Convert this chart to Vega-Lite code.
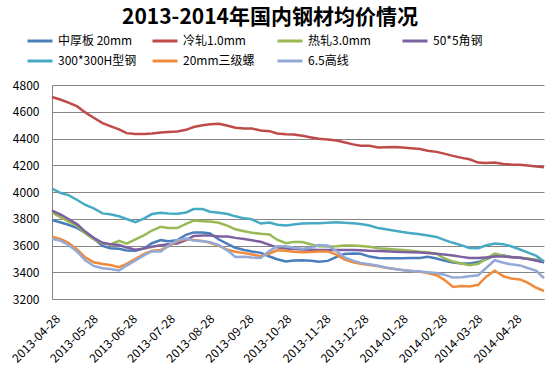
{
 "$schema": "https://vega.github.io/schema/vega-lite/v6.json",
 "width": 492, "height": 214,
 "autosize": "none",
 "padding": {"left": 52, "top": 85, "right": 10, "bottom": 71},
 "background": "white",
 "config": {"font": "Noto Sans CJK SC", "view": {"stroke": null}},
 "title": {"text": "2013-2014年国内钢材均价情况", "fontSize": 21, "fontWeight": "bold", "color": "#000000", "anchor": "middle", "frame": "group", "dx": -28, "offset": -1},
 "data": {"values": [
{"s":"中厚板 20mm","d":"2013-04-28","v":3790},{"s":"中厚板 20mm","d":"2013-05-05","v":3772},{"s":"中厚板 20mm","d":"2013-05-11","v":3755},{"s":"中厚板 20mm","d":"2013-05-18","v":3730},{"s":"中厚板 20mm","d":"2013-05-24","v":3695},{"s":"中厚板 20mm","d":"2013-05-31","v":3650},{"s":"中厚板 20mm","d":"2013-06-07","v":3597},{"s":"中厚板 20mm","d":"2013-06-13","v":3580},{"s":"中厚板 20mm","d":"2013-06-20","v":3575},{"s":"中厚板 20mm","d":"2013-06-26","v":3562},{"s":"中厚板 20mm","d":"2013-07-03","v":3560},{"s":"中厚板 20mm","d":"2013-07-10","v":3580},{"s":"中厚板 20mm","d":"2013-07-16","v":3617},{"s":"中厚板 20mm","d":"2013-07-23","v":3640},{"s":"中厚板 20mm","d":"2013-07-29","v":3632},{"s":"中厚板 20mm","d":"2013-08-05","v":3640},{"s":"中厚板 20mm","d":"2013-08-12","v":3680},{"s":"中厚板 20mm","d":"2013-08-18","v":3698},{"s":"中厚板 20mm","d":"2013-08-25","v":3698},{"s":"中厚板 20mm","d":"2013-08-31","v":3690},{"s":"中厚板 20mm","d":"2013-09-07","v":3645},{"s":"中厚板 20mm","d":"2013-09-14","v":3610},{"s":"中厚板 20mm","d":"2013-09-20","v":3583},{"s":"中厚板 20mm","d":"2013-09-27","v":3567},{"s":"中厚板 20mm","d":"2013-10-03","v":3555},{"s":"中厚板 20mm","d":"2013-10-10","v":3545},{"s":"中厚板 20mm","d":"2013-10-17","v":3518},{"s":"中厚板 20mm","d":"2013-10-23","v":3497},{"s":"中厚板 20mm","d":"2013-10-30","v":3480},{"s":"中厚板 20mm","d":"2013-11-05","v":3487},{"s":"中厚板 20mm","d":"2013-11-12","v":3490},{"s":"中厚板 20mm","d":"2013-11-19","v":3486},{"s":"中厚板 20mm","d":"2013-11-25","v":3478},{"s":"中厚板 20mm","d":"2013-12-02","v":3485},{"s":"中厚板 20mm","d":"2013-12-09","v":3515},{"s":"中厚板 20mm","d":"2013-12-15","v":3536},{"s":"中厚板 20mm","d":"2013-12-22","v":3541},{"s":"中厚板 20mm","d":"2013-12-28","v":3538},{"s":"中厚板 20mm","d":"2014-01-04","v":3517},{"s":"中厚板 20mm","d":"2014-01-11","v":3506},{"s":"中厚板 20mm","d":"2014-01-17","v":3505},{"s":"中厚板 20mm","d":"2014-01-24","v":3505},{"s":"中厚板 20mm","d":"2014-01-30","v":3505},{"s":"中厚板 20mm","d":"2014-02-06","v":3506},{"s":"中厚板 20mm","d":"2014-02-13","v":3507},{"s":"中厚板 20mm","d":"2014-02-19","v":3515},{"s":"中厚板 20mm","d":"2014-02-26","v":3503},{"s":"中厚板 20mm","d":"2014-03-04","v":3488},{"s":"中厚板 20mm","d":"2014-03-11","v":3472},{"s":"中厚板 20mm","d":"2014-03-18","v":3465},{"s":"中厚板 20mm","d":"2014-03-24","v":3465},{"s":"中厚板 20mm","d":"2014-03-31","v":3476},{"s":"中厚板 20mm","d":"2014-04-06","v":3497},{"s":"中厚板 20mm","d":"2014-04-13","v":3525},{"s":"中厚板 20mm","d":"2014-04-20","v":3525},{"s":"中厚板 20mm","d":"2014-04-26","v":3514},{"s":"中厚板 20mm","d":"2014-05-03","v":3508},{"s":"中厚板 20mm","d":"2014-05-09","v":3500},{"s":"中厚板 20mm","d":"2014-05-16","v":3488},{"s":"中厚板 20mm","d":"2014-05-22","v":3475},
{"s":"冷轧1.0mm","d":"2013-04-28","v":4710},{"s":"冷轧1.0mm","d":"2013-05-05","v":4690},{"s":"冷轧1.0mm","d":"2013-05-11","v":4668},{"s":"冷轧1.0mm","d":"2013-05-18","v":4640},{"s":"冷轧1.0mm","d":"2013-05-24","v":4597},{"s":"冷轧1.0mm","d":"2013-05-31","v":4555},{"s":"冷轧1.0mm","d":"2013-06-07","v":4515},{"s":"冷轧1.0mm","d":"2013-06-13","v":4493},{"s":"冷轧1.0mm","d":"2013-06-20","v":4468},{"s":"冷轧1.0mm","d":"2013-06-26","v":4440},{"s":"冷轧1.0mm","d":"2013-07-03","v":4434},{"s":"冷轧1.0mm","d":"2013-07-10","v":4434},{"s":"冷轧1.0mm","d":"2013-07-16","v":4438},{"s":"冷轧1.0mm","d":"2013-07-23","v":4445},{"s":"冷轧1.0mm","d":"2013-07-29","v":4449},{"s":"冷轧1.0mm","d":"2013-08-05","v":4453},{"s":"冷轧1.0mm","d":"2013-08-12","v":4465},{"s":"冷轧1.0mm","d":"2013-08-18","v":4486},{"s":"冷轧1.0mm","d":"2013-08-25","v":4499},{"s":"冷轧1.0mm","d":"2013-08-31","v":4507},{"s":"冷轧1.0mm","d":"2013-09-07","v":4510},{"s":"冷轧1.0mm","d":"2013-09-14","v":4495},{"s":"冷轧1.0mm","d":"2013-09-20","v":4481},{"s":"冷轧1.0mm","d":"2013-09-27","v":4475},{"s":"冷轧1.0mm","d":"2013-10-03","v":4475},{"s":"冷轧1.0mm","d":"2013-10-10","v":4460},{"s":"冷轧1.0mm","d":"2013-10-17","v":4455},{"s":"冷轧1.0mm","d":"2013-10-23","v":4437},{"s":"冷轧1.0mm","d":"2013-10-30","v":4431},{"s":"冷轧1.0mm","d":"2013-11-05","v":4429},{"s":"冷轧1.0mm","d":"2013-11-12","v":4420},{"s":"冷轧1.0mm","d":"2013-11-19","v":4408},{"s":"冷轧1.0mm","d":"2013-11-25","v":4398},{"s":"冷轧1.0mm","d":"2013-12-02","v":4393},{"s":"冷轧1.0mm","d":"2013-12-09","v":4385},{"s":"冷轧1.0mm","d":"2013-12-15","v":4372},{"s":"冷轧1.0mm","d":"2013-12-22","v":4356},{"s":"冷轧1.0mm","d":"2013-12-28","v":4346},{"s":"冷轧1.0mm","d":"2014-01-04","v":4345},{"s":"冷轧1.0mm","d":"2014-01-11","v":4332},{"s":"冷轧1.0mm","d":"2014-01-17","v":4334},{"s":"冷轧1.0mm","d":"2014-01-24","v":4337},{"s":"冷轧1.0mm","d":"2014-01-30","v":4333},{"s":"冷轧1.0mm","d":"2014-02-06","v":4328},{"s":"冷轧1.0mm","d":"2014-02-13","v":4322},{"s":"冷轧1.0mm","d":"2014-02-19","v":4309},{"s":"冷轧1.0mm","d":"2014-02-26","v":4300},{"s":"冷轧1.0mm","d":"2014-03-04","v":4287},{"s":"冷轧1.0mm","d":"2014-03-11","v":4270},{"s":"冷轧1.0mm","d":"2014-03-18","v":4255},{"s":"冷轧1.0mm","d":"2014-03-24","v":4245},{"s":"冷轧1.0mm","d":"2014-03-31","v":4220},{"s":"冷轧1.0mm","d":"2014-04-06","v":4217},{"s":"冷轧1.0mm","d":"2014-04-13","v":4220},{"s":"冷轧1.0mm","d":"2014-04-20","v":4210},{"s":"冷轧1.0mm","d":"2014-04-26","v":4205},{"s":"冷轧1.0mm","d":"2014-05-03","v":4204},{"s":"冷轧1.0mm","d":"2014-05-09","v":4198},{"s":"冷轧1.0mm","d":"2014-05-16","v":4190},{"s":"冷轧1.0mm","d":"2014-05-22","v":4185},
{"s":"热轧3.0mm","d":"2013-04-28","v":3848},{"s":"热轧3.0mm","d":"2013-05-05","v":3810},{"s":"热轧3.0mm","d":"2013-05-11","v":3780},{"s":"热轧3.0mm","d":"2013-05-18","v":3746},{"s":"热轧3.0mm","d":"2013-05-24","v":3693},{"s":"热轧3.0mm","d":"2013-05-31","v":3647},{"s":"热轧3.0mm","d":"2013-06-07","v":3615},{"s":"热轧3.0mm","d":"2013-06-13","v":3608},{"s":"热轧3.0mm","d":"2013-06-20","v":3635},{"s":"热轧3.0mm","d":"2013-06-26","v":3614},{"s":"热轧3.0mm","d":"2013-07-03","v":3646},{"s":"热轧3.0mm","d":"2013-07-10","v":3678},{"s":"热轧3.0mm","d":"2013-07-16","v":3712},{"s":"热轧3.0mm","d":"2013-07-23","v":3740},{"s":"热轧3.0mm","d":"2013-07-29","v":3731},{"s":"热轧3.0mm","d":"2013-08-05","v":3730},{"s":"热轧3.0mm","d":"2013-08-12","v":3762},{"s":"热轧3.0mm","d":"2013-08-18","v":3786},{"s":"热轧3.0mm","d":"2013-08-25","v":3782},{"s":"热轧3.0mm","d":"2013-08-31","v":3779},{"s":"热轧3.0mm","d":"2013-09-07","v":3770},{"s":"热轧3.0mm","d":"2013-09-14","v":3747},{"s":"热轧3.0mm","d":"2013-09-20","v":3721},{"s":"热轧3.0mm","d":"2013-09-27","v":3707},{"s":"热轧3.0mm","d":"2013-10-03","v":3695},{"s":"热轧3.0mm","d":"2013-10-10","v":3687},{"s":"热轧3.0mm","d":"2013-10-17","v":3682},{"s":"热轧3.0mm","d":"2013-10-23","v":3643},{"s":"热轧3.0mm","d":"2013-10-30","v":3617},{"s":"热轧3.0mm","d":"2013-11-05","v":3627},{"s":"热轧3.0mm","d":"2013-11-12","v":3626},{"s":"热轧3.0mm","d":"2013-11-19","v":3607},{"s":"热轧3.0mm","d":"2013-11-25","v":3595},{"s":"热轧3.0mm","d":"2013-12-02","v":3592},{"s":"热轧3.0mm","d":"2013-12-09","v":3595},{"s":"热轧3.0mm","d":"2013-12-15","v":3600},{"s":"热轧3.0mm","d":"2013-12-22","v":3600},{"s":"热轧3.0mm","d":"2013-12-28","v":3597},{"s":"热轧3.0mm","d":"2014-01-04","v":3591},{"s":"热轧3.0mm","d":"2014-01-11","v":3580},{"s":"热轧3.0mm","d":"2014-01-17","v":3576},{"s":"热轧3.0mm","d":"2014-01-24","v":3571},{"s":"热轧3.0mm","d":"2014-01-30","v":3566},{"s":"热轧3.0mm","d":"2014-02-06","v":3560},{"s":"热轧3.0mm","d":"2014-02-13","v":3553},{"s":"热轧3.0mm","d":"2014-02-19","v":3549},{"s":"热轧3.0mm","d":"2014-02-26","v":3539},{"s":"热轧3.0mm","d":"2014-03-04","v":3505},{"s":"热轧3.0mm","d":"2014-03-11","v":3480},{"s":"热轧3.0mm","d":"2014-03-18","v":3466},{"s":"热轧3.0mm","d":"2014-03-24","v":3452},{"s":"热轧3.0mm","d":"2014-03-31","v":3463},{"s":"热轧3.0mm","d":"2014-04-06","v":3500},{"s":"热轧3.0mm","d":"2014-04-13","v":3540},{"s":"热轧3.0mm","d":"2014-04-20","v":3524},{"s":"热轧3.0mm","d":"2014-04-26","v":3512},{"s":"热轧3.0mm","d":"2014-05-03","v":3508},{"s":"热轧3.0mm","d":"2014-05-09","v":3502},{"s":"热轧3.0mm","d":"2014-05-16","v":3494},{"s":"热轧3.0mm","d":"2014-05-22","v":3485},
{"s":"50*5角钢","d":"2013-04-28","v":3860},{"s":"50*5角钢","d":"2013-05-05","v":3830},{"s":"50*5角钢","d":"2013-05-11","v":3798},{"s":"50*5角钢","d":"2013-05-18","v":3758},{"s":"50*5角钢","d":"2013-05-24","v":3706},{"s":"50*5角钢","d":"2013-05-31","v":3657},{"s":"50*5角钢","d":"2013-06-07","v":3620},{"s":"50*5角钢","d":"2013-06-13","v":3610},{"s":"50*5角钢","d":"2013-06-20","v":3603},{"s":"50*5角钢","d":"2013-06-26","v":3585},{"s":"50*5角钢","d":"2013-07-03","v":3568},{"s":"50*5角钢","d":"2013-07-10","v":3577},{"s":"50*5角钢","d":"2013-07-16","v":3590},{"s":"50*5角钢","d":"2013-07-23","v":3602},{"s":"50*5角钢","d":"2013-07-29","v":3609},{"s":"50*5角钢","d":"2013-08-05","v":3614},{"s":"50*5角钢","d":"2013-08-12","v":3640},{"s":"50*5角钢","d":"2013-08-18","v":3671},{"s":"50*5角钢","d":"2013-08-25","v":3675},{"s":"50*5角钢","d":"2013-08-31","v":3674},{"s":"50*5角钢","d":"2013-09-07","v":3668},{"s":"50*5角钢","d":"2013-09-14","v":3668},{"s":"50*5角钢","d":"2013-09-20","v":3657},{"s":"50*5角钢","d":"2013-09-27","v":3648},{"s":"50*5角钢","d":"2013-10-03","v":3639},{"s":"50*5角钢","d":"2013-10-10","v":3628},{"s":"50*5角钢","d":"2013-10-17","v":3605},{"s":"50*5角钢","d":"2013-10-23","v":3586},{"s":"50*5角钢","d":"2013-10-30","v":3578},{"s":"50*5角钢","d":"2013-11-05","v":3573},{"s":"50*5角钢","d":"2013-11-12","v":3570},{"s":"50*5角钢","d":"2013-11-19","v":3568},{"s":"50*5角钢","d":"2013-11-25","v":3567},{"s":"50*5角钢","d":"2013-12-02","v":3567},{"s":"50*5角钢","d":"2013-12-09","v":3567},{"s":"50*5角钢","d":"2013-12-15","v":3567},{"s":"50*5角钢","d":"2013-12-22","v":3567},{"s":"50*5角钢","d":"2013-12-28","v":3565},{"s":"50*5角钢","d":"2014-01-04","v":3560},{"s":"50*5角钢","d":"2014-01-11","v":3558},{"s":"50*5角钢","d":"2014-01-17","v":3557},{"s":"50*5角钢","d":"2014-01-24","v":3554},{"s":"50*5角钢","d":"2014-01-30","v":3551},{"s":"50*5角钢","d":"2014-02-06","v":3549},{"s":"50*5角钢","d":"2014-02-13","v":3547},{"s":"50*5角钢","d":"2014-02-19","v":3543},{"s":"50*5角钢","d":"2014-02-26","v":3539},{"s":"50*5角钢","d":"2014-03-04","v":3533},{"s":"50*5角钢","d":"2014-03-11","v":3526},{"s":"50*5角钢","d":"2014-03-18","v":3515},{"s":"50*5角钢","d":"2014-03-24","v":3507},{"s":"50*5角钢","d":"2014-03-31","v":3507},{"s":"50*5角钢","d":"2014-04-06","v":3511},{"s":"50*5角钢","d":"2014-04-13","v":3517},{"s":"50*5角钢","d":"2014-04-20","v":3517},{"s":"50*5角钢","d":"2014-04-26","v":3514},{"s":"50*5角钢","d":"2014-05-03","v":3508},{"s":"50*5角钢","d":"2014-05-09","v":3500},{"s":"50*5角钢","d":"2014-05-16","v":3488},{"s":"50*5角钢","d":"2014-05-22","v":3475},
{"s":"300*300H型钢","d":"2013-04-28","v":4025},{"s":"300*300H型钢","d":"2013-05-05","v":3992},{"s":"300*300H型钢","d":"2013-05-11","v":3977},{"s":"300*300H型钢","d":"2013-05-18","v":3940},{"s":"300*300H型钢","d":"2013-05-24","v":3905},{"s":"300*300H型钢","d":"2013-05-31","v":3877},{"s":"300*300H型钢","d":"2013-06-07","v":3840},{"s":"300*300H型钢","d":"2013-06-13","v":3833},{"s":"300*300H型钢","d":"2013-06-20","v":3819},{"s":"300*300H型钢","d":"2013-06-26","v":3798},{"s":"300*300H型钢","d":"2013-07-03","v":3774},{"s":"300*300H型钢","d":"2013-07-10","v":3803},{"s":"300*300H型钢","d":"2013-07-16","v":3835},{"s":"300*300H型钢","d":"2013-07-23","v":3845},{"s":"300*300H型钢","d":"2013-07-29","v":3840},{"s":"300*300H型钢","d":"2013-08-05","v":3837},{"s":"300*300H型钢","d":"2013-08-12","v":3847},{"s":"300*300H型钢","d":"2013-08-18","v":3872},{"s":"300*300H型钢","d":"2013-08-25","v":3873},{"s":"300*300H型钢","d":"2013-08-31","v":3852},{"s":"300*300H型钢","d":"2013-09-07","v":3845},{"s":"300*300H型钢","d":"2013-09-14","v":3835},{"s":"300*300H型钢","d":"2013-09-20","v":3818},{"s":"300*300H型钢","d":"2013-09-27","v":3803},{"s":"300*300H型钢","d":"2013-10-03","v":3796},{"s":"300*300H型钢","d":"2013-10-10","v":3764},{"s":"300*300H型钢","d":"2013-10-17","v":3772},{"s":"300*300H型钢","d":"2013-10-23","v":3755},{"s":"300*300H型钢","d":"2013-10-30","v":3750},{"s":"300*300H型钢","d":"2013-11-05","v":3757},{"s":"300*300H型钢","d":"2013-11-12","v":3764},{"s":"300*300H型钢","d":"2013-11-19","v":3767},{"s":"300*300H型钢","d":"2013-11-25","v":3767},{"s":"300*300H型钢","d":"2013-12-02","v":3771},{"s":"300*300H型钢","d":"2013-12-09","v":3774},{"s":"300*300H型钢","d":"2013-12-15","v":3771},{"s":"300*300H型钢","d":"2013-12-22","v":3766},{"s":"300*300H型钢","d":"2013-12-28","v":3760},{"s":"300*300H型钢","d":"2014-01-04","v":3750},{"s":"300*300H型钢","d":"2014-01-11","v":3730},{"s":"300*300H型钢","d":"2014-01-17","v":3722},{"s":"300*300H型钢","d":"2014-01-24","v":3711},{"s":"300*300H型钢","d":"2014-01-30","v":3701},{"s":"300*300H型钢","d":"2014-02-06","v":3692},{"s":"300*300H型钢","d":"2014-02-13","v":3684},{"s":"300*300H型钢","d":"2014-02-19","v":3675},{"s":"300*300H型钢","d":"2014-02-26","v":3664},{"s":"300*300H型钢","d":"2014-03-04","v":3642},{"s":"300*300H型钢","d":"2014-03-11","v":3620},{"s":"300*300H型钢","d":"2014-03-18","v":3601},{"s":"300*300H型钢","d":"2014-03-24","v":3582},{"s":"300*300H型钢","d":"2014-03-31","v":3580},{"s":"300*300H型钢","d":"2014-04-06","v":3600},{"s":"300*300H型钢","d":"2014-04-13","v":3615},{"s":"300*300H型钢","d":"2014-04-20","v":3610},{"s":"300*300H型钢","d":"2014-04-26","v":3594},{"s":"300*300H型钢","d":"2014-05-03","v":3570},{"s":"300*300H型钢","d":"2014-05-09","v":3548},{"s":"300*300H型钢","d":"2014-05-16","v":3522},{"s":"300*300H型钢","d":"2014-05-22","v":3480},
{"s":"20mm三级螺","d":"2013-04-28","v":3666},{"s":"20mm三级螺","d":"2013-05-05","v":3648},{"s":"20mm三级螺","d":"2013-05-11","v":3620},{"s":"20mm三级螺","d":"2013-05-18","v":3568},{"s":"20mm三级螺","d":"2013-05-24","v":3514},{"s":"20mm三级螺","d":"2013-05-31","v":3475},{"s":"20mm三级螺","d":"2013-06-07","v":3461},{"s":"20mm三级螺","d":"2013-06-13","v":3454},{"s":"20mm三级螺","d":"2013-06-20","v":3438},{"s":"20mm三级螺","d":"2013-06-26","v":3463},{"s":"20mm三级螺","d":"2013-07-03","v":3500},{"s":"20mm三级螺","d":"2013-07-10","v":3538},{"s":"20mm三级螺","d":"2013-07-16","v":3561},{"s":"20mm三级螺","d":"2013-07-23","v":3567},{"s":"20mm三级螺","d":"2013-07-29","v":3594},{"s":"20mm三级螺","d":"2013-08-05","v":3632},{"s":"20mm三级螺","d":"2013-08-12","v":3648},{"s":"20mm三级螺","d":"2013-08-18","v":3641},{"s":"20mm三级螺","d":"2013-08-25","v":3633},{"s":"20mm三级螺","d":"2013-08-31","v":3620},{"s":"20mm三级螺","d":"2013-09-07","v":3597},{"s":"20mm三级螺","d":"2013-09-14","v":3568},{"s":"20mm三级螺","d":"2013-09-20","v":3553},{"s":"20mm三级螺","d":"2013-09-27","v":3543},{"s":"20mm三级螺","d":"2013-10-03","v":3532},{"s":"20mm三级螺","d":"2013-10-10","v":3520},{"s":"20mm三级螺","d":"2013-10-17","v":3540},{"s":"20mm三级螺","d":"2013-10-23","v":3564},{"s":"20mm三级螺","d":"2013-10-30","v":3560},{"s":"20mm三级螺","d":"2013-11-05","v":3553},{"s":"20mm三级螺","d":"2013-11-12","v":3550},{"s":"20mm三级螺","d":"2013-11-19","v":3551},{"s":"20mm三级螺","d":"2013-11-25","v":3555},{"s":"20mm三级螺","d":"2013-12-02","v":3556},{"s":"20mm三级螺","d":"2013-12-09","v":3532},{"s":"20mm三级螺","d":"2013-12-15","v":3496},{"s":"20mm三级螺","d":"2013-12-22","v":3475},{"s":"20mm三级螺","d":"2013-12-28","v":3464},{"s":"20mm三级螺","d":"2014-01-04","v":3455},{"s":"20mm三级螺","d":"2014-01-11","v":3445},{"s":"20mm三级螺","d":"2014-01-17","v":3434},{"s":"20mm三级螺","d":"2014-01-24","v":3425},{"s":"20mm三级螺","d":"2014-01-30","v":3417},{"s":"20mm三级螺","d":"2014-02-06","v":3410},{"s":"20mm三级螺","d":"2014-02-13","v":3403},{"s":"20mm三级螺","d":"2014-02-19","v":3394},{"s":"20mm三级螺","d":"2014-02-26","v":3378},{"s":"20mm三级螺","d":"2014-03-04","v":3345},{"s":"20mm三级螺","d":"2014-03-11","v":3290},{"s":"20mm三级螺","d":"2014-03-18","v":3297},{"s":"20mm三级螺","d":"2014-03-24","v":3293},{"s":"20mm三级螺","d":"2014-03-31","v":3306},{"s":"20mm三级螺","d":"2014-04-06","v":3365},{"s":"20mm三级螺","d":"2014-04-13","v":3412},{"s":"20mm三级螺","d":"2014-04-20","v":3370},{"s":"20mm三级螺","d":"2014-04-26","v":3353},{"s":"20mm三级螺","d":"2014-05-03","v":3346},{"s":"20mm三级螺","d":"2014-05-09","v":3322},{"s":"20mm三级螺","d":"2014-05-16","v":3284},{"s":"20mm三级螺","d":"2014-05-22","v":3260},
{"s":"6.5高线","d":"2013-04-28","v":3650},{"s":"6.5高线","d":"2013-05-05","v":3635},{"s":"6.5高线","d":"2013-05-11","v":3604},{"s":"6.5高线","d":"2013-05-18","v":3553},{"s":"6.5高线","d":"2013-05-24","v":3491},{"s":"6.5高线","d":"2013-05-31","v":3447},{"s":"6.5高线","d":"2013-06-07","v":3430},{"s":"6.5高线","d":"2013-06-13","v":3424},{"s":"6.5高线","d":"2013-06-20","v":3413},{"s":"6.5高线","d":"2013-06-26","v":3450},{"s":"6.5高线","d":"2013-07-03","v":3488},{"s":"6.5高线","d":"2013-07-10","v":3528},{"s":"6.5高线","d":"2013-07-16","v":3557},{"s":"6.5高线","d":"2013-07-23","v":3555},{"s":"6.5高线","d":"2013-07-29","v":3598},{"s":"6.5高线","d":"2013-08-05","v":3640},{"s":"6.5高线","d":"2013-08-12","v":3652},{"s":"6.5高线","d":"2013-08-18","v":3637},{"s":"6.5高线","d":"2013-08-25","v":3632},{"s":"6.5高线","d":"2013-08-31","v":3625},{"s":"6.5高线","d":"2013-09-07","v":3603},{"s":"6.5高线","d":"2013-09-14","v":3562},{"s":"6.5高线","d":"2013-09-20","v":3514},{"s":"6.5高线","d":"2013-09-27","v":3516},{"s":"6.5高线","d":"2013-10-03","v":3510},{"s":"6.5高线","d":"2013-10-10","v":3506},{"s":"6.5高线","d":"2013-10-17","v":3560},{"s":"6.5高线","d":"2013-10-23","v":3594},{"s":"6.5高线","d":"2013-10-30","v":3595},{"s":"6.5高线","d":"2013-11-05","v":3584},{"s":"6.5高线","d":"2013-11-12","v":3576},{"s":"6.5高线","d":"2013-11-19","v":3583},{"s":"6.5高线","d":"2013-11-25","v":3604},{"s":"6.5高线","d":"2013-12-02","v":3600},{"s":"6.5高线","d":"2013-12-09","v":3558},{"s":"6.5高线","d":"2013-12-15","v":3512},{"s":"6.5高线","d":"2013-12-22","v":3487},{"s":"6.5高线","d":"2013-12-28","v":3470},{"s":"6.5高线","d":"2014-01-04","v":3460},{"s":"6.5高线","d":"2014-01-11","v":3448},{"s":"6.5高线","d":"2014-01-17","v":3435},{"s":"6.5高线","d":"2014-01-24","v":3425},{"s":"6.5高线","d":"2014-01-30","v":3416},{"s":"6.5高线","d":"2014-02-06","v":3410},{"s":"6.5高线","d":"2014-02-13","v":3405},{"s":"6.5高线","d":"2014-02-19","v":3400},{"s":"6.5高线","d":"2014-02-26","v":3395},{"s":"6.5高线","d":"2014-03-04","v":3382},{"s":"6.5高线","d":"2014-03-11","v":3360},{"s":"6.5高线","d":"2014-03-18","v":3363},{"s":"6.5高线","d":"2014-03-24","v":3370},{"s":"6.5高线","d":"2014-03-31","v":3378},{"s":"6.5高线","d":"2014-04-06","v":3430},{"s":"6.5高线","d":"2014-04-13","v":3490},{"s":"6.5高线","d":"2014-04-20","v":3471},{"s":"6.5高线","d":"2014-04-26","v":3459},{"s":"6.5高线","d":"2014-05-03","v":3451},{"s":"6.5高线","d":"2014-05-09","v":3432},{"s":"6.5高线","d":"2014-05-16","v":3410},{"s":"6.5高线","d":"2014-05-22","v":3355}
 ]},
 "mark": {"type": "line", "strokeWidth": 2.5},
 "encoding": {
  "x": {"field": "d", "type": "temporal",
   "scale": {"type": "utc", "domain": [{"year": 2013, "month": 4, "date": 28, "utc": true}, {"year": 2014, "month": 5, "date": 22, "utc": true}]},
   "axis": {"title": null, "grid": false, "ticks": false, "domainColor": "#868686", "labelAngle": -45, "labelFontSize": 12, "labelColor": "#000000", "labelPadding": 14, "labelOffset": 2, "labelOverlap": false, "labelBound": false, "labelFlush": false, "format": "%Y-%m-%d",
    "values": [
     {"year": 2013, "month": 4, "date": 28, "utc": true},
     {"year": 2013, "month": 5, "date": 28, "utc": true},
     {"year": 2013, "month": 6, "date": 28, "utc": true},
     {"year": 2013, "month": 7, "date": 28, "utc": true},
     {"year": 2013, "month": 8, "date": 28, "utc": true},
     {"year": 2013, "month": 9, "date": 28, "utc": true},
     {"year": 2013, "month": 10, "date": 28, "utc": true},
     {"year": 2013, "month": 11, "date": 28, "utc": true},
     {"year": 2013, "month": 12, "date": 28, "utc": true},
     {"year": 2014, "month": 1, "date": 28, "utc": true},
     {"year": 2014, "month": 2, "date": 28, "utc": true},
     {"year": 2014, "month": 3, "date": 28, "utc": true},
     {"year": 2014, "month": 4, "date": 28, "utc": true}
    ]}},
  "y": {"field": "v", "type": "quantitative",
   "scale": {"domain": [3200, 4800], "nice": false, "zero": false},
   "axis": {"title": null, "format": "d", "values": [3200, 3400, 3600, 3800, 4000, 4200, 4400, 4600, 4800], "grid": true, "gridColor": "#868686", "gridOpacity": 1, "ticks": false, "domainColor": "#868686", "labelFontSize": 12, "labelColor": "#000000", "labelPadding": 13}},
  "color": {"field": "s", "type": "nominal",
   "scale": {"domain": ["中厚板 20mm", "冷轧1.0mm", "热轧3.0mm", "50*5角钢", "300*300H型钢", "20mm三级螺", "6.5高线"],
    "range": ["#4A7EBB", "#BE4B48", "#98B954", "#7D60A0", "#46AAC5", "#F08A3C", "#93A9D6"]},
   "legend": {"title": null, "orient": "none", "legendX": -26, "legendY": -58, "columns": 4, "direction": "horizontal", "symbolType": "stroke", "symbolSize": 625, "symbolStrokeWidth": 3, "labelFontSize": 12, "labelColor": "#000000", "labelOffset": 4, "gridAlign": "all", "columnPadding": 9, "rowPadding": -3}}
 }
}
